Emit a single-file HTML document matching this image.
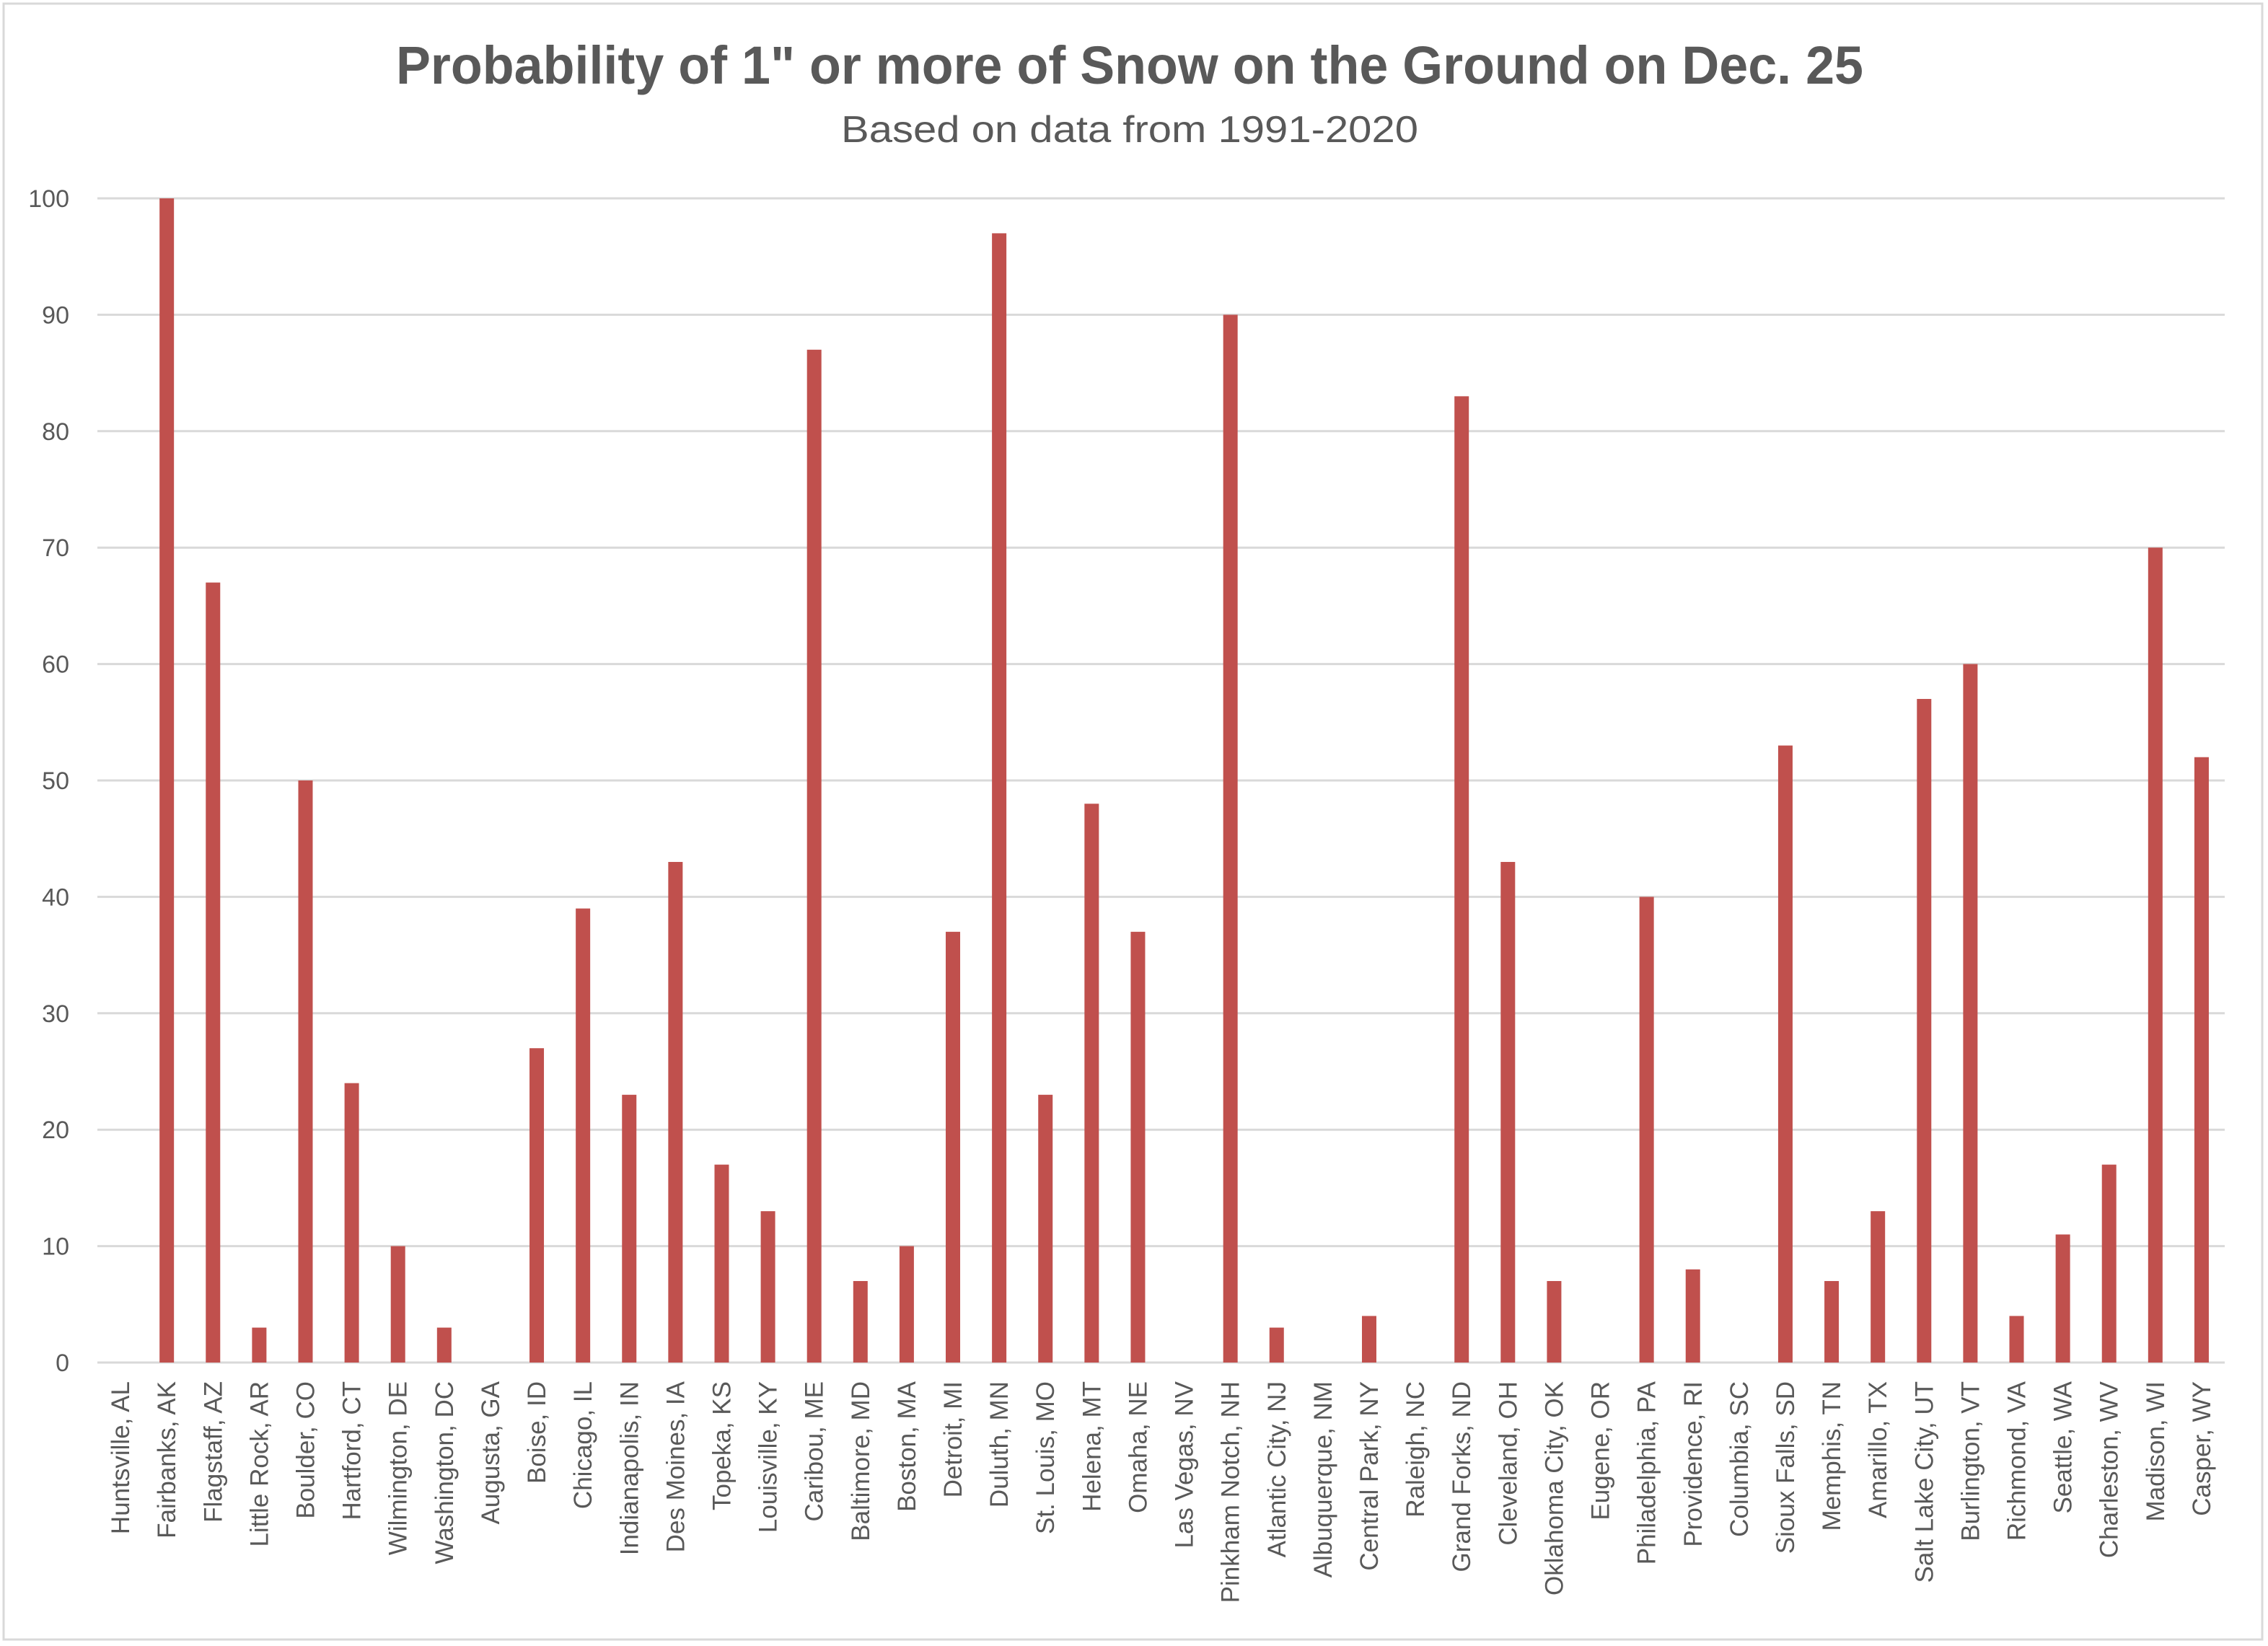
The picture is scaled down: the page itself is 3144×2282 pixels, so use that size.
<!DOCTYPE html>
<html><head><meta charset="utf-8"><style>
html,body{margin:0;padding:0;background:#fff;}
svg{display:block;}
text{font-family:"Liberation Sans",sans-serif;fill:#595959;}
</style></head><body>
<svg id="c" width="3144" height="2282" viewBox="0 0 3144 2282" xmlns="http://www.w3.org/2000/svg">
<rect x="5" y="5" width="3131" height="2268" fill="#fff" stroke="#d9d9d9" stroke-width="3"/>
<text x="1566" y="116" text-anchor="middle" font-size="74" font-weight="bold" textLength="2034" lengthAdjust="spacingAndGlyphs">Probability of 1" or more of Snow on the Ground on Dec. 25</text>
<text x="1566" y="197" text-anchor="middle" font-size="52" textLength="800" lengthAdjust="spacingAndGlyphs">Based on data from 1991-2020</text>
<g id="g"></g>
</svg>
<script>
var names=["Huntsville, AL","Fairbanks, AK","Flagstaff, AZ","Little Rock, AR","Boulder, CO","Hartford, CT","Wilmington, DE","Washington, DC","Augusta, GA","Boise, ID","Chicago, IL","Indianapolis, IN","Des Moines, IA","Topeka, KS","Louisville, KY","Caribou, ME","Baltimore, MD","Boston, MA","Detroit, MI","Duluth, MN","St. Louis, MO","Helena, MT","Omaha, NE","Las Vegas, NV","Pinkham Notch, NH","Atlantic City, NJ","Albuquerque, NM","Central Park, NY","Raleigh, NC","Grand Forks, ND","Cleveland, OH","Oklahoma City, OK","Eugene, OR","Philadelphia, PA","Providence, RI","Columbia, SC","Sioux Falls, SD","Memphis, TN","Amarillo, TX","Salt Lake City, UT","Burlington, VT","Richmond, VA","Seattle, WA","Charleston, WV","Madison, WI","Casper, WY"];
var v=[0,100,67,3,50,24,10,3,0,27,39,23,43,17,13,87,7,10,37,97,23,48,37,0,90,3,0,4,0,83,43,7,0,40,8,0,53,7,13,57,60,4,11,17,70,52];
var L=135,R=3084,Y0=1889,S=16.14,W=(R-L)/46,s="";
for(var i=0;i<=10;i++){var y=Y0-i*10*S;
s+='<line x1="'+L+'" x2="'+R+'" y1="'+y+'" y2="'+y+'" stroke="#d9d9d9" stroke-width="3"/>';
s+='<text x="96" y="'+(y+12)+'" text-anchor="end" font-size="34">'+(i*10)+'</text>';}
for(var i=0;i<46;i++){var cx=L+(i+0.5)*W,h=v[i]*S;
if(h>0)s+='<rect x="'+(cx-10)+'" y="'+(Y0-h)+'" width="20" height="'+h+'" fill="#c0504d"/>';
s+='<text transform="translate('+(cx+12)+',1915) rotate(-90)" text-anchor="end" font-size="35">'+names[i]+'</text>';}
document.getElementById('g').innerHTML=s;
</script>
</body></html>
